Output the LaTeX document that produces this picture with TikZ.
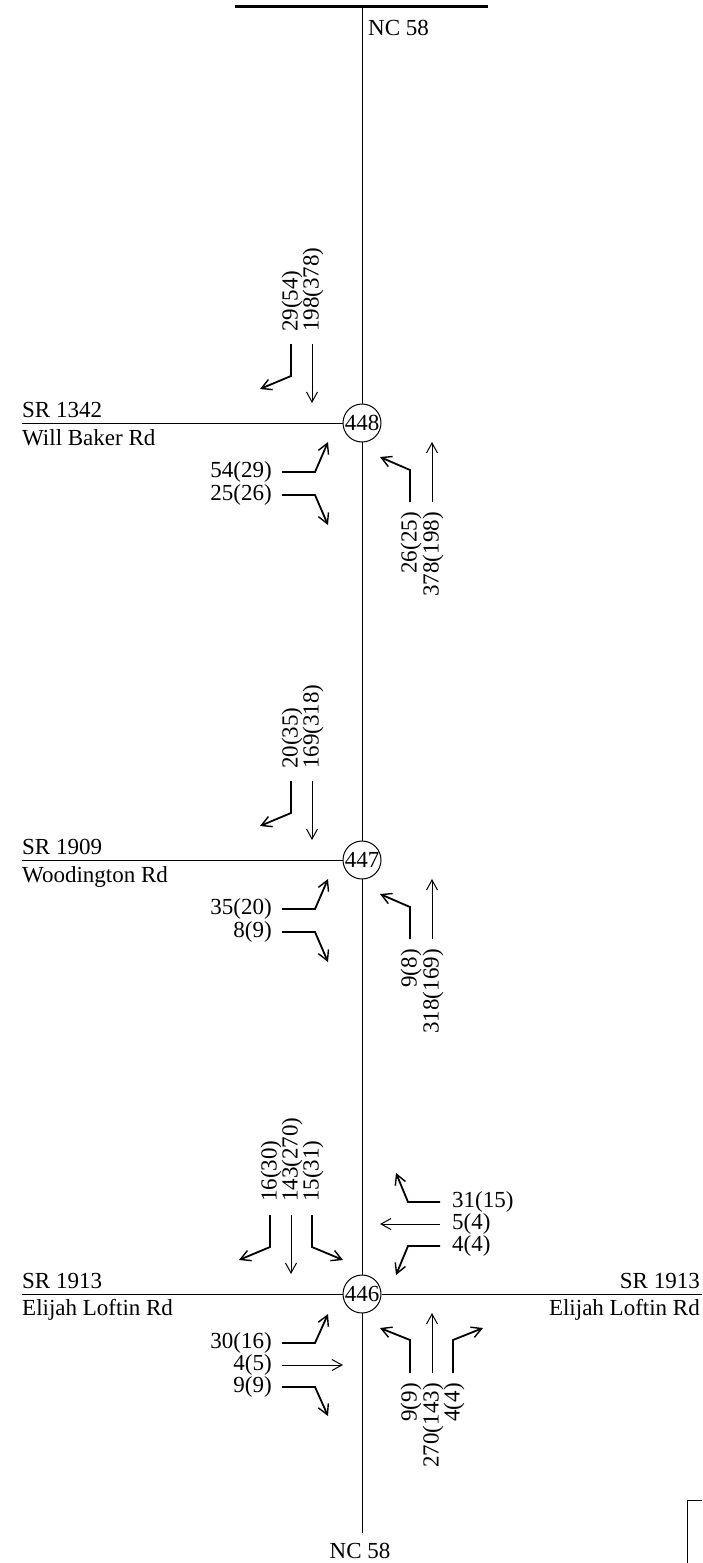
\documentclass[tikz,border=0pt]{standalone}
\usepackage{fontspec}
\setmainfont{Liberation Serif}
\usetikzlibrary{arrows.meta}
\tikzset{
  road/.style={line width=1pt, black},
  turn/.style={line width=1.8pt, -{Straight Barb[length=10pt,width=11pt,line width=1.4pt]}},
  thru/.style={line width=1pt, -{Straight Barb[length=10pt,width=11pt,line width=1pt]}},
  isec/.style={circle, draw, line width=1pt, fill=white, minimum size=38pt, inner sep=0pt, font=\fontsize{23}{25}\selectfont},
  lbl/.style={inner sep=0pt, font=\fontsize{23}{25}\selectfont},
  vlbl/.style={lbl, rotate=90},
}
\begin{document}
\begin{tikzpicture}[x=1pt,y=-1pt]
\useasboundingbox (0,0) rectangle (702,1563);
% top line and main road
\coordinate (topL) at (235,7);
\coordinate (topR) at (488,7);
\draw[line width=3pt] (topL) -- (topR);
\coordinate (nTop) at (362,7);
\coordinate (nBot) at (362,1533);
\draw[road] (nTop) -- (nBot);
\node[lbl, anchor=base west] (nc58t) at (368,36) {NC 58};
\node[lbl, anchor=base] (nc58b) at (360,1558) {NC 58};
% bottom-right box
\coordinate (bx1) at (687,1563);
\coordinate (bx2) at (687,1500);
\coordinate (bx3) at (702,1500);
\draw[line width=1pt] (bx1) -- (bx2) -- (bx3);

% ---------- 448 ----------
\coordinate (w448) at (22,423);
\node[isec] (i448) at (362,423) {448};
\draw[road] (w448) -- (i448);
\node[lbl, anchor=base west] (sr1342) at (22,417) {SR 1342};
\node[lbl, anchor=base west] (wbr) at (22,445) {Will Baker Rd};
\begin{scope}[shift={(362,423)}]
  % SB
  \draw[turn] (-71,-79) -- (-71,-47) -- (-102,-34);
  \draw[thru] (-50,-79) -- (-50,-20);
  \node[vlbl, anchor=west] (l448a) at (-70,-91) {29(54)};
  \node[vlbl, anchor=west] (l448b) at (-49,-91) {198(378)};
  % EB
  \draw[turn] (-80,49) -- (-47,49) -- (-34,19);
  \draw[turn] (-80,72) -- (-47,72) -- (-34,102);
  \node[lbl, anchor=east] (l448c) at (-90,49) {54(29)};
  \node[lbl, anchor=east] (l448d) at (-90,72) {25(26)};
  % NB
  \draw[turn] (48,79) -- (48,47) -- (18,34);
  \draw[thru] (70,79) -- (70,19);
  \node[vlbl, anchor=east] (l448e) at (49,89) {26(25)};
  \node[vlbl, anchor=east] (l448f) at (71,89) {378(198)};
\end{scope}

% ---------- 447 ----------
\coordinate (w447) at (22,860);
\node[isec] (i447) at (362,860) {447};
\draw[road] (w447) -- (i447);
\node[lbl, anchor=base west] (sr1909) at (22,854) {SR 1909};
\node[lbl, anchor=base west] (wdr) at (22,882) {Woodington Rd};
\begin{scope}[shift={(362,860)}]
  \draw[turn] (-71,-79) -- (-71,-47) -- (-102,-34);
  \draw[thru] (-50,-79) -- (-50,-20);
  \node[vlbl, anchor=west] (l447a) at (-70,-91) {20(35)};
  \node[vlbl, anchor=west] (l447b) at (-49,-91) {169(318)};
  \draw[turn] (-80,49) -- (-47,49) -- (-34,19);
  \draw[turn] (-80,72) -- (-47,72) -- (-34,102);
  \node[lbl, anchor=east] (l447c) at (-90,49) {35(20)};
  \node[lbl, anchor=east] (l447d) at (-90,72) {8(9)};
  \draw[turn] (48,79) -- (48,47) -- (18,34);
  \draw[thru] (70,79) -- (70,19);
  \node[vlbl, anchor=east] (l447e) at (49,89) {9(8)};
  \node[vlbl, anchor=east] (l447f) at (71,89) {318(169)};
\end{scope}

% ---------- 446 ----------
\coordinate (w446) at (22,1294);
\coordinate (e446) at (702,1294);
\node[isec] (i446) at (362,1294) {446};
\draw[road] (w446) -- (i446) -- (e446);
\node[lbl, anchor=base west] (sr1913w) at (22,1288) {SR 1913};
\node[lbl, anchor=base west] (elrw) at (22,1315) {Elijah Loftin Rd};
\node[lbl, anchor=base east] (sr1913e) at (700,1288) {SR 1913};
\node[lbl, anchor=base east] (elre) at (700,1315) {Elijah Loftin Rd};
\begin{scope}[shift={(362,1294)}]
  % SB
  \draw[turn] (-92,-79) -- (-92,-47) -- (-123,-34);
  \draw[thru] (-71,-79) -- (-71,-20);
  \draw[turn] (-50,-79) -- (-50,-47) -- (-19,-34);
  \node[vlbl, anchor=west] (l446a) at (-91,-92) {16(30)};
  \node[vlbl, anchor=west] (l446b) at (-70,-92) {143(270)};
  \node[vlbl, anchor=west] (l446c) at (-49,-92) {15(31)};
  % WB
  \draw[turn] (78,-92) -- (46,-92) -- (34,-121);
  \draw[thru] (78,-70) -- (18,-70);
  \draw[turn] (78,-48) -- (46,-48) -- (34,-19);
  \node[lbl, anchor=west] (l446d) at (90,-92) {31(15)};
  \node[lbl, anchor=west] (l446e) at (90,-70) {5(4)};
  \node[lbl, anchor=west] (l446f) at (90,-48) {4(4)};
  % EB
  \draw[turn] (-80,49) -- (-47,49) -- (-34,20);
  \draw[thru] (-80,71) -- (-19,71);
  \draw[turn] (-80,93) -- (-47,93) -- (-34,122);
  \node[lbl, anchor=east] (l446g) at (-90,49) {30(16)};
  \node[lbl, anchor=east] (l446h) at (-90,71) {4(5)};
  \node[lbl, anchor=east] (l446i) at (-90,93) {9(9)};
  % NB
  \draw[turn] (48,79) -- (48,46) -- (18,34);
  \draw[thru] (70,79) -- (70,19);
  \draw[turn] (91,79) -- (91,46) -- (121,34);
  \node[vlbl, anchor=east] (l446j) at (49,89) {9(9)};
  \node[vlbl, anchor=east] (l446k) at (71,89) {270(143)};
  \node[vlbl, anchor=east] (l446l) at (92,89) {4(4)};
\end{scope}
\end{tikzpicture}
\end{document}
